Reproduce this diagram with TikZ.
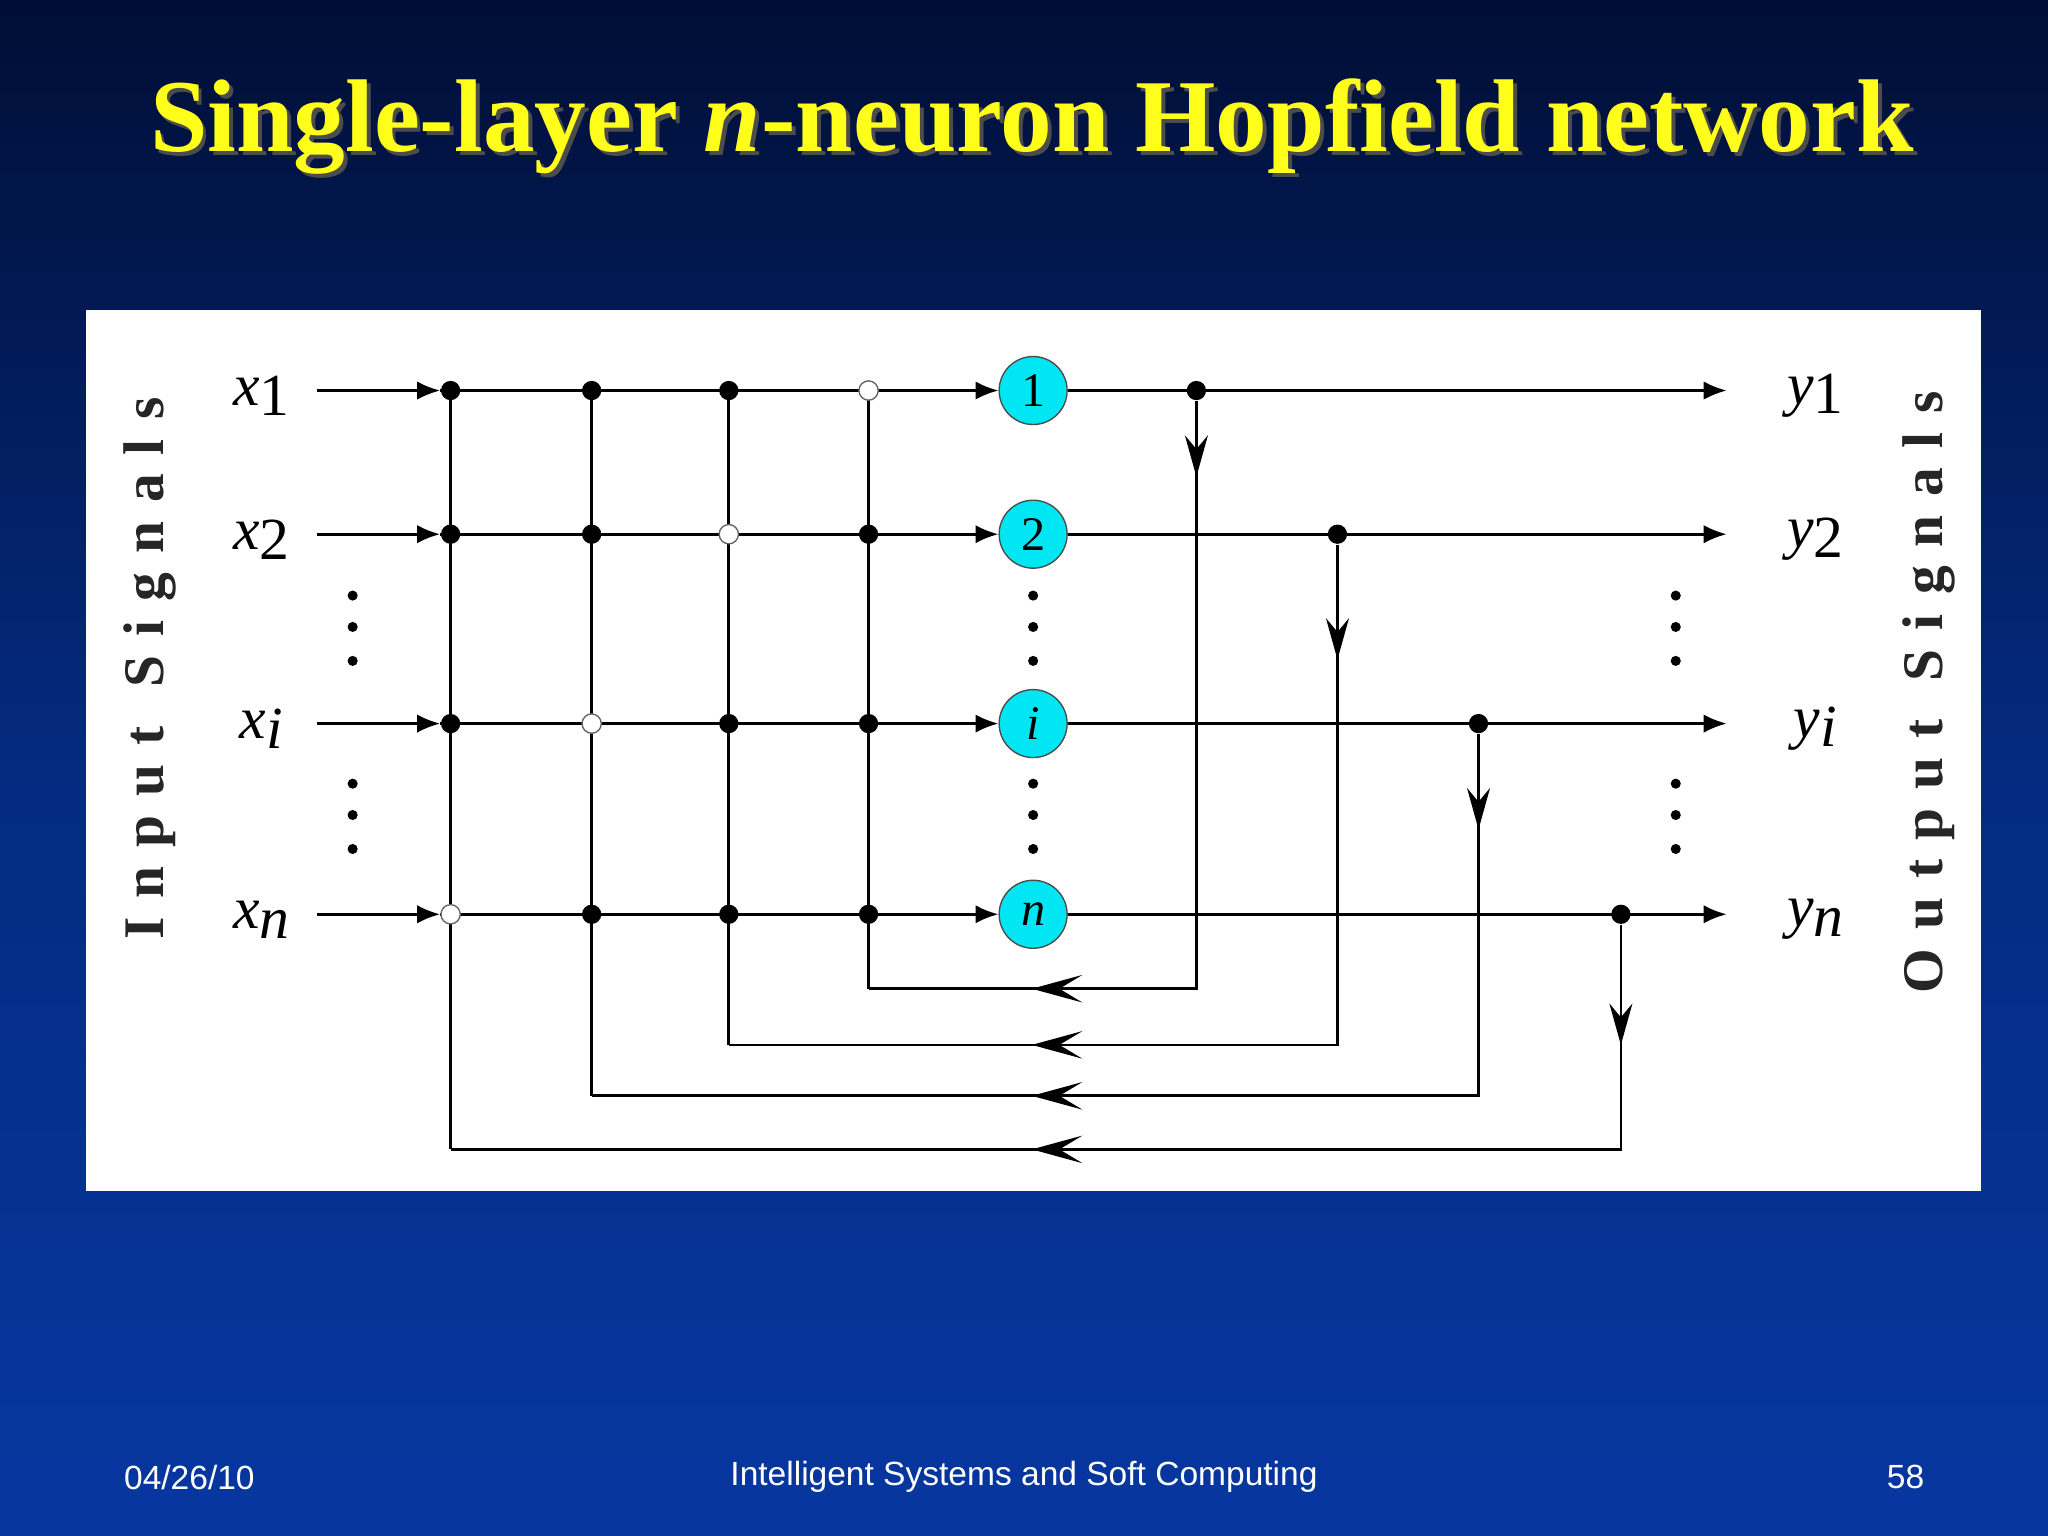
\documentclass[tikz,border=0pt]{standalone}
\usepackage{fontspec}
\setmainfont{Liberation Serif}
\setsansfont{Liberation Sans}
\usetikzlibrary{arrows.meta}
\definecolor{navytop}{HTML}{000E35}
\definecolor{navybot}{HTML}{0637A0}
\definecolor{neur}{HTML}{00E6F2}
\definecolor{ttl}{HTML}{FFFF1A}
\begin{document}
\begin{tikzpicture}[x=0.01cm,y=-0.01cm,
  wire/.style={line width=0.6pt},
  inarr/.style={wire,-{Latex[length=5pt,width=4pt]}},
  jd/.style={circle,fill=black,inner sep=0pt,minimum size=4.2pt},
  jo/.style={circle,draw=black!60,fill=white,line width=0.3pt,inner sep=0pt,minimum size=4.2pt},
  neuron/.style={circle,fill=neur,draw=black!70,line width=0.3pt,minimum size=14.8pt,inner sep=0pt,font=\fontsize{10.5}{10.5}\selectfont},
  lab/.style={font=\fontsize{13}{13}\selectfont},
  side/.style={font=\bfseries\fontsize{12.5}{12.5}\selectfont,text=black!85,rotate=90},
  foot/.style={font=\sffamily\fontsize{7.3}{7.3}\selectfont,text=white}]
\shade[top color=navytop,bottom color=navybot,middle color=navybot!70!navytop] (0,0) rectangle (1568,1176);
\useasboundingbox (0,0) rectangle (1568,1176);
\node[font=\bfseries\fontsize{22.5}{22.5}\selectfont,text=black!70] at (793,100) {Single-layer \textit{n}-neuron Hopfield network};
\node[font=\bfseries\fontsize{22.5}{22.5}\selectfont,text=ttl] (title) at (790,97) {Single-layer \textit{n}-neuron Hopfield network};
\fill[white] (66,237) rectangle (1517,912);
% rows
\foreach \r/\y/\t/\s in {1/299/1/1,2/409/2/2,i/554/\textit{i}/\textit{i},n/700/\textit{n}/\textit{n}}{
  \coordinate (in\r) at (243,\y);
  \coordinate (ia\r) at (337,\y);
  \node[neuron] (N\r) at (791,\y) {\t};
  \coordinate (out\r) at (1322,\y);
  \draw[inarr] (in\r) -- (ia\r);
  \draw[inarr] (ia\r) -- (N\r.west);
  \draw[inarr] (N\r.east) -- (out\r);
  \node[lab] (x\r) at (200,\y+4) {\textit{x}\raisebox{-0.35ex}{\s}};
  \node[lab] (y\r) at (1390,\y+4) {\textit{y}\raisebox{-0.35ex}{\s}};
}
% feedback columns
\foreach \r/\cx/\ox/\by/\ay in {1/665/916/757/365, 2/558/1024/800/505, i/453/1132/839/635, n/345/1241/880/800}{
  \coordinate (ct\r) at (\cx,299);
  \coordinate (cb\r) at (\cx,\by);
  \coordinate (ot\r) at (\ox,0);
  \node[jd] (od\r) at (N\r.center -| ot\r) {};
  \coordinate (ob\r) at (\ox,\by);
  \coordinate (oa\r) at (\ox,\ay);
  \coordinate (fm\r) at (790,\by);
  \draw[wire] (ct\r) -- (cb\r);
  \draw[wire] (od\r) -- (ob\r) -- (cb\r);
  \draw[wire,-{Stealth[length=9pt,width=5pt,inset=3pt]}] (od\r) -- (oa\r);
  \draw[wire,-{Stealth[length=11pt,width=6pt,inset=5pt]}] (ob\r) -- (fm\r);
}
% junction dots
\foreach \c/\cx in {1/665,2/558,i/453,n/345}{
  \foreach \r/\y in {1/299,2/409,i/554,n/700}{
    \ifx\c\r \node[jo] at (\cx,\y) {};
    \else \node[jd] at (\cx,\y) {};\fi
  }
}
% ellipsis dots
\foreach \x in {270,791,1283}{
  \foreach \y in {456,480,506,600,624,650}{
    \fill (\x,\y) circle (1.1pt);
  }
}
\node[side] (insig) at (115,512) {I\,\,n\,\,p\,\,u\,\,t\,\,\,\,S\,\,i\,\,g\,\,n\,\,a\,\,l\,\,s};
\node[side] (outsig) at (1477,530) {O\,\,u\,\,t\,\,p\,\,u\,\,t\,\,\,\,S\,\,i\,\,g\,\,n\,\,a\,\,l\,\,s};
\node[foot] (date) at (145,1131) {04/26/10};
\node[foot] (course) at (784,1131) {Intelligent Systems and Soft Computing};
\node[foot] (page) at (1459,1131) {58};
\end{tikzpicture}
\end{document}
